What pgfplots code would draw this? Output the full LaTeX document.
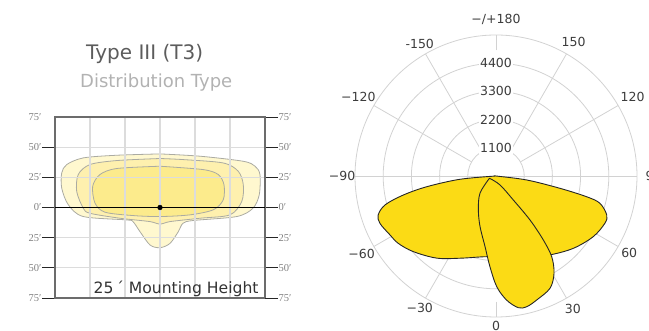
\documentclass[border=0pt]{standalone}
\usepackage{pgfplots}
\pgfplotsset{compat=1.18}
\usepackage{pgfplotstable}
\usepgfplotslibrary{polar}
\usepackage{fontspec}
\setmainfont{DejaVu Sans}
\newfontfamily\tickfont{Liberation Serif}

\definecolor{luxA}{HTML}{FFF8CF}
\definecolor{luxB}{HTML}{FEF0AE}
\definecolor{luxC}{HTML}{FCEB8C}
\definecolor{contour}{HTML}{ABABA2}
\definecolor{gridgray}{HTML}{DCDCDC}
\definecolor{boxgray}{HTML}{6C6C6C}
\definecolor{cdyellow}{HTML}{FBDB15}
\definecolor{ringgray}{HTML}{D2D2D2}
\definecolor{labelgray}{HTML}{3C3C3C}

% candela curves, phi: 0 = down, +90 = right
\pgfplotstableread{
phi cd
-90 0
-84.8 1410
-81.2 2730
-78.4 3690
-75.4 4470
-71.7 4840
-67.8 4890
-60.9 4730
-55.4 4630
-47.5 4370
-35.8 3950
-23.6 3500
-8.9 3190
0 3150
10 3200
20 3400
34.4 3730
46.9 4130
58.0 4470
66.5 4630
70.6 4580
75.3 4190
77.1 3630
79.1 2540
82.6 1210
90 0
-90 0
}\lobewide

\pgfplotstableread{
phi cd
-71 270
-42.8 920
-27.5 1490
-17.5 2070
-8.8 2790
-3.8 3550
0.4 4320
4.9 4860
9.6 5210
13.2 5240
18.2 5090
25.7 4860
30.8 4420
34.6 3830
36.5 3100
37.7 2170
35.8 1150
24 380
-71 270
}\lobenarrow

\pgfplotsset{
  isoscale/.style={
    at={(55pt,33pt)}, anchor=south west,
    width=210pt, height=181pt, scale only axis,
    xmin=-75, xmax=75, ymin=-75, ymax=75,
    tick align=outside,
    major tick length=13pt,
    ytick style={black!85, line width=0.8pt},
    yticklabel style={font=\tickfont\fontsize{10.5}{11}\selectfont, text=black!50, inner sep=0.5pt},
    axis line style={draw=boxgray, line width=1.1pt},
  }
}

\begin{document}
\begin{tikzpicture}
\useasboundingbox (0,0) rectangle (649pt,331pt);
\clip (0,0) rectangle (649pt,331pt);

% titles
\node[anchor=base west, inner sep=0pt, text=black!64, font=\fontsize{20}{22}\selectfont] at (86pt,271pt) {Type III (T3)};
\node[anchor=base west, inner sep=0pt, text=black!30, font=\fontsize{18}{20}\selectfont] at (80pt,243pt) {Distribution Type};

% isolux plot
\begin{axis}[
    isoscale,
    xtick={-50,-25,0,25,50}, xticklabels={},
    xtick style={draw=none},
    ytick={-75,-50,-25,0,25,50},
    yticklabels={75′,50′,25′,0′,25′,50′},
    extra y ticks={75}, extra y tick labels={75′},
    extra y tick style={grid=none, ytick style={draw=none}},
    ytick pos=left,
    grid=major,
    major grid style={draw=gridgray, line width=1.1pt},
    axis on top,
]
\addplot[fill=luxA, draw=contour, line width=0.8pt, smooth, tension=0.5] coordinates {
(0,44.4) (-30.9,43.3) (-54.8,41.1) (-66.6,35.6) (-70.2,28.6) (-70.2,16.1)
(-65.5,2.3) (-54.8,-7.5) (-23.8,-10.3) (-19.3,-11.7) (-14.3,-20) (-7.1,-31.1)
(0,-33.3) (7.1,-29.8) (13.1,-20) (16.4,-13.1) (23.6,-10.8) (54.8,-7.5)
(66.4,-0.6) (70.9,10.6) (71.4,27.3) (67.9,34.2) (59.5,38.3) (28.6,42.5) (0,44.4)};
\addplot[fill=luxB, draw=contour, line width=0.8pt, smooth, tension=0.5] coordinates {
(0,40.6) (-30.9,38.9) (-50,35.6) (-58.4,27.3) (-59.5,13.3) (-54.8,-0.6)
(-50,-4.8) (-28.6,-8.9) (-7.1,-11.7) (0,-13.9) (7.1,-11.7) (28.6,-8.9)
(50,-6.1) (58.4,5) (59.5,18.9) (55.9,30) (45.2,36.9) (16.6,39.7) (0,40.6)};
\addplot[fill=luxC, draw=contour, line width=0.8pt, smooth, tension=0.5] coordinates {
(0,34.2) (-30.9,32.3) (-42.9,27.3) (-48.1,17.5) (-46.4,3.6) (-39.3,-3.9)
(-19.1,-6.7) (0,-7.5) (21.4,-6.1) (38.1,-1.9) (45.2,6.4) (45.7,18.9)
(41.6,27.3) (30.9,31.4) (0,34.2)};
\end{axis}

% right-hand scale, zero line and luminaire
\begin{axis}[
    isoscale,
    axis x line=none, axis y line*=right,
    ytick={-75,-50,-25,0,25,50,75},
    yticklabels={75′,50′,25′,0′,25′,50′,75′},
    clip=false,
]
\addplot[black, line width=1pt] coordinates {(-75,0) (75,0)};
\addplot[only marks, mark=*, mark size=2.4pt, black] coordinates {(0,0)};
\node[anchor=base east, inner sep=0pt, text=black!80, font=\fontsize{15.6}{16}\selectfont] at (axis cs:70.5,-71) {25\,´ Mounting Height};
\end{axis}

% candela polar plot
\begin{polaraxis}[
    at={(496pt,155pt)}, anchor=center,
    width=282pt, height=282pt, scale only axis,
    ymin=0, ymax=5500,
    xtick=\empty,
    ytick={1100,2200,3300,4400},
    yticklabels={},
    ymajorgrids,
    major grid style={draw=ringgray, line width=0.8pt},
    ytick style={draw=none},
    axis line style={draw=ringgray, line width=0.8pt},
    clip=false,
]
\addplot[ringgray, line width=0.8pt] coordinates {(-240,1100) (-240,5500)};
\addplot[ringgray, line width=0.8pt] coordinates {(-210,1100) (-210,5500)};
\addplot[ringgray, line width=0.8pt] coordinates {(-150,1100) (-150,5500)};
\addplot[ringgray, line width=0.8pt] coordinates {(-120,1100) (-120,5500)};
\addplot[ringgray, line width=0.8pt] coordinates {(-60,1100) (-60,5500)};
\addplot[ringgray, line width=0.8pt] coordinates {(-30,1100) (-30,5500)};
\addplot[ringgray, line width=0.8pt] coordinates {(30,1100) (30,5500)};
\addplot[ringgray, line width=0.8pt] coordinates {(60,1100) (60,5500)};
\addplot[ringgray, line width=0.8pt] coordinates {(0,0) (0,5500)};
\addplot[ringgray, line width=0.8pt] coordinates {(180,0) (180,5500)};
\addplot[ringgray, line width=0.8pt] coordinates {(90,4900) (90,5500)};
\addplot[ringgray, line width=0.8pt] coordinates {(-90,4900) (-90,5500)};

\addplot[fill=cdyellow, draw=black!85, line width=0.9pt, smooth, tension=0.55]
    table[x expr=\thisrow{phi}-90, y=cd] {\lobewide};
\addplot[fill=cdyellow, draw=black!85, line width=0.9pt, smooth, tension=0.55]
    table[x expr=\thisrow{phi}-90, y=cd] {\lobenarrow};

\begin{scope}[font=\fontsize{12.5}{13}\selectfont, text=labelgray]
\node[fill=white, inner sep=1pt] at (axis cs:90,1100) {1100};
\node[fill=white, inner sep=1pt] at (axis cs:90,2200) {2200};
\node[fill=white, inner sep=1pt] at (axis cs:90,3300) {3300};
\node[fill=white, inner sep=1pt] at (axis cs:90,4400) {4400};
\node at (axis cs:90,6100) {−/+180};
\node at (axis cs:60,6050) {150};
\node at (axis cs:30,6150) {120};
\node at (axis cs:0,6150) {90};
\node at (axis cs:-30,6000) {60};
\node at (axis cs:-60,6000) {30};
\node at (axis cs:-90,5850) {0};
\node at (axis cs:-120,5950) {−30};
\node at (axis cs:-150,6050) {−60};
\node at (axis cs:180,6000) {−90};
\node at (axis cs:150,6200) {−120};
\node at (axis cs:120,5950) {-150};
\end{scope}
\end{polaraxis}
\end{tikzpicture}
\end{document}
